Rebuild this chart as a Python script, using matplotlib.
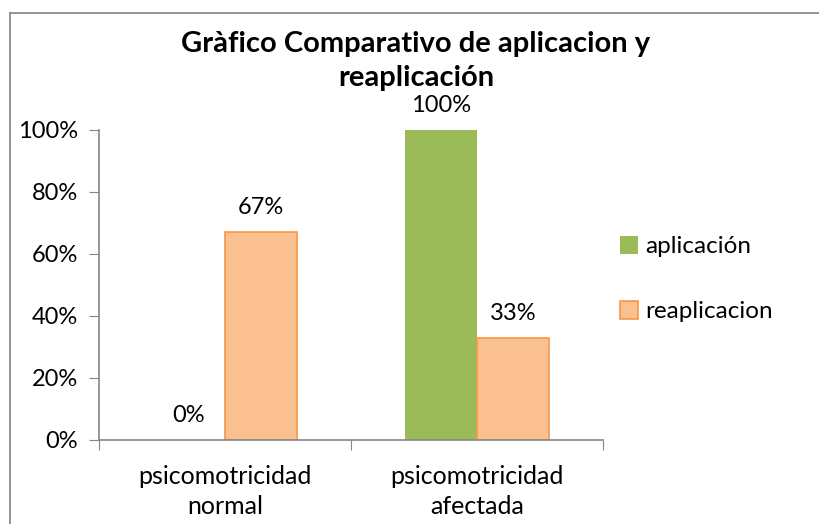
import matplotlib
matplotlib.use("Agg")
import matplotlib.pyplot as plt
from matplotlib.lines import Line2D
import numpy as np

plt.rcParams['font.family'] = ['Lato', 'DejaVu Sans']

categories = ["psicomotricidad\nnormal", "psicomotricidad\nafectada"]
aplicacion = [0, 100]
reaplicacion = [67, 33]
series_names = ["aplicación", "reaplicacion"]
y_ticks = [0, 20, 40, 60, 80, 100]

W, H = 819, 524
fig = plt.figure(figsize=(W / 100, H / 100), dpi=100)
ax = fig.add_axes([99 / W, 1 - 440 / H, 504 / W, 310 / H])

# outer chart frame (cut off at right and bottom like the source)
border = "#8c8c8c"
fig.add_artist(Line2D([10 / W, 10 / W], [0, 1 - 13 / H], color=border, lw=1.3))
fig.add_artist(Line2D([10 / W, 1], [1 - 13 / H, 1 - 13 / H], color=border, lw=1.3))

x = np.arange(len(categories))
w = 0.286
green = "#9bbb59"
orange = "#fac090"
orange_edge = "#f79646"

b1 = ax.bar(x - w / 2, aplicacion, w, color=green, label=series_names[0])
b2 = ax.bar(x + w / 2, reaplicacion, w, color=orange, edgecolor=orange_edge,
            linewidth=1.2, label=series_names[1])

for bars in (b1, b2):
    for r in bars:
        h = r.get_height()
        ax.annotate("%d%%" % h, (r.get_x() + r.get_width() / 2, h),
                    xytext=(0, 10), textcoords="offset points",
                    ha="center", va="bottom", fontsize=17, color="#000000")

ax.set_xlim(-0.5, 1.5)
ax.set_ylim(0, 100)
ax.set_yticks(y_ticks)
ax.set_yticklabels(["%d%%" % v for v in y_ticks], fontsize=17)
ax.set_xticks([-0.5, 0.5, 1.5])
ax.set_xticklabels([])
ax.set_xticks(x, minor=True)
ax.set_xticklabels(categories, minor=True, fontsize=18, linespacing=1.35)
ax.tick_params(axis="x", which="minor", length=0, pad=18)
ax.tick_params(axis="x", which="major", length=7, color="#868686", direction="out")
ax.tick_params(axis="y", length=7, color="#868686", direction="out", pad=8)

for s in ("top", "right"):
    ax.spines[s].set_visible(False)
for s in ("left", "bottom"):
    ax.spines[s].set_color("#868686")
    ax.spines[s].set_linewidth(1.2)

fig.text(416 / W, 1 - 61 / H, "Gràfico Comparativo de aplicacion y\nreaplicación",
         ha="center", va="center", fontsize=21, fontweight="bold", linespacing=1.35)

leg = fig.legend(handles=[b1, b2], loc="upper left",
                 bbox_to_anchor=(598 / W, 1 - 214 / H), frameon=False,
                 fontsize=17.5, handlelength=0.75, handleheight=0.75,
                 labelspacing=1.8, handletextpad=0.3)

fig.savefig("out.png", dpi=100)
